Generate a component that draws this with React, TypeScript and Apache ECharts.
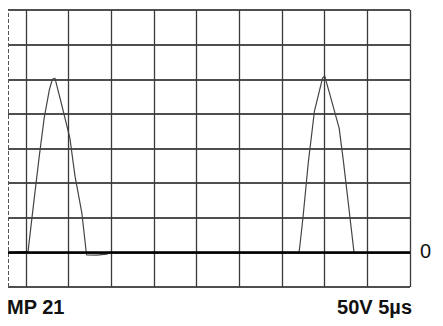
import React, { useEffect, useRef } from "react";
import * as echarts from "echarts";

// Trace (x in time divisions, y in voltage divisions)
const traceX = [-0.42, 0.05, 0.17, 0.31, 0.43, 0.55, 0.62, 0.68, 0.84, 1.03, 1.15, 1.31, 1.42, 1.66, 1.89, 2.0, 6.4, 6.42, 6.49, 6.62, 6.76, 6.95, 7.0, 7.12, 7.34, 7.44, 7.55, 7.69, 9.0];
const traceY = [0, 0.03, 1.3, 2.75, 3.9, 4.7, 5.0, 5.03, 4.25, 3.3, 2.2, 1.14, -0.07, -0.08, -0.05, 0, 0, 0.2, 0.98, 2.63, 4.07, 5.03, 5.1, 4.57, 3.59, 2.63, 1.47, -0.02, 0];
const gridX = [0, 1, 2, 3, 4, 5, 6, 7, 8, 9];
const xRange = [-0.42, 9];
const yRange = [-1, 7];
const leftLabel = "MP 21";
const rightLabel = "50V 5µs";
const zeroLabel = "0";

export default function App() {
  const ref = useRef<HTMLDivElement>(null);
  useEffect(() => {
    document.body.style.margin = "0";
    if (!ref.current) return;
    const chart = echarts.init(ref.current, null, { renderer: "svg" });
    const font = 'bold 20px "Liberation Sans", Arial, sans-serif';
    chart.setOption({
      animation: false,
      backgroundColor: "#fff",
      grid: { left: 8, right: 33, top: 10, bottom: 39 },
      xAxis: {
        type: "value",
        min: xRange[0],
        max: xRange[1],
        axisLine: { show: false },
        axisTick: { show: false },
        axisLabel: { show: false },
        splitLine: { show: false },
      },
      yAxis: {
        type: "value",
        min: yRange[0],
        max: yRange[1],
        interval: 1,
        axisLine: { show: false },
        axisTick: { show: false },
        axisLabel: { show: false },
        splitLine: { show: true, lineStyle: { color: "#151515", width: 1.5 } },
      },
      series: [
        {
          type: "line",
          data: [],
          silent: true,
          markLine: {
            silent: true,
            symbol: "none",
            label: { show: false },
            lineStyle: { color: "#3a3a3a", width: 1.3, type: "solid" },
            data: [
              ...gridX.map((v) => ({ xAxis: v })),
              { xAxis: xRange[0], lineStyle: { color: "#555", width: 1, type: "dashed" } },
              { yAxis: 0, lineStyle: { color: "#000", width: 2.5, type: "solid" } },
            ],
          },
        },
        {
          type: "line",
          showSymbol: false,
          silent: true,
          data: traceX.map((x, i) => [x, traceY[i]]),
          lineStyle: { color: "#444", width: 1.2 },
        },
      ],
      graphic: [
        { type: "text", left: 7, top: 297, style: { text: leftLabel, font, fill: "#111" } },
        { type: "text", right: 31, top: 297, style: { text: rightLabel, font, fill: "#111" } },
        { type: "text", left: 420, top: 241, style: { text: zeroLabel, font: '20px "Liberation Sans", Arial, sans-serif', fill: "#111" } },
      ],
    });
    return () => chart.dispose();
  }, []);
  return <div ref={ref} style={{ width: 443, height: 326 }} />;
}
